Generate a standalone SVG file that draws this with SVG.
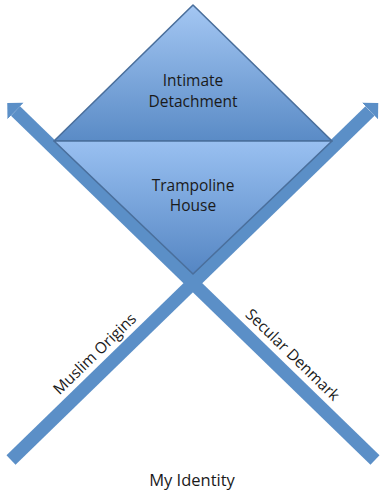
<svg xmlns="http://www.w3.org/2000/svg" width="380" height="491" viewBox="0 0 380 491">
  <style>
    .shaft { stroke: #5b8fc7; stroke-width: 13; fill: none; stroke-linecap: butt; }
    .tri { stroke: #4a6f9c; stroke-width: 1.6; stroke-linejoin: round; }
    .lbl { font-family: "Open Sans", Lato, "Liberation Sans", sans-serif; font-size: 15.5px; fill: #1a1a1a; text-anchor: middle; }
  </style>
  <defs>
    <marker id="head" markerUnits="userSpaceOnUse" markerWidth="14" markerHeight="26" refX="0" refY="13" orient="auto" viewBox="0 0 14 26">
      <path d="M0,1.5 L11.5,13 L0,24.5 Z" fill="#5b8fc7"/>
    </marker>
    <linearGradient id="gTop" x1="0" y1="0" x2="0" y2="1">
      <stop offset="0" stop-color="#a4c7f3"/>
      <stop offset="1" stop-color="#5a8bc6"/>
    </linearGradient>
    <linearGradient id="gBot" x1="0" y1="0" x2="0" y2="1">
      <stop offset="0" stop-color="#99c0f1"/>
      <stop offset="1" stop-color="#5586c3"/>
    </linearGradient>
  </defs>
  <g id="connectors">
    <line class="shaft" x1="11" y1="460" x2="370" y2="111" marker-end="url(#head)"/>
    <line class="shaft" x1="375" y1="460" x2="15.5" y2="111" marker-end="url(#head)"/>
  </g>
  <g id="intimate-detachment">
    <polygon class="tri" points="193,5 332,141 54,141" fill="url(#gTop)"/>
    <text class="lbl" x="193" y="86">Intimate</text>
    <text class="lbl" x="193" y="107">Detachment</text>
  </g>
  <g id="trampoline-house">
    <polygon class="tri" points="54,141 332,141 193,274" fill="url(#gBot)"/>
    <text class="lbl" x="193" y="191">Trampoline</text>
    <text class="lbl" x="193" y="211">House</text>
  </g>
  <g id="muslim-origins">
    <text class="lbl" transform="translate(98.5,357.6) rotate(-44.2)">Muslim Origins</text>
  </g>
  <g id="secular-denmark">
    <text class="lbl" transform="translate(289,358.6) rotate(44.2)">Secular Denmark</text>
  </g>
  <g id="my-identity">
    <text class="lbl" x="192" y="486" style="font-size:16.5px">My Identity</text>
  </g>
</svg>
